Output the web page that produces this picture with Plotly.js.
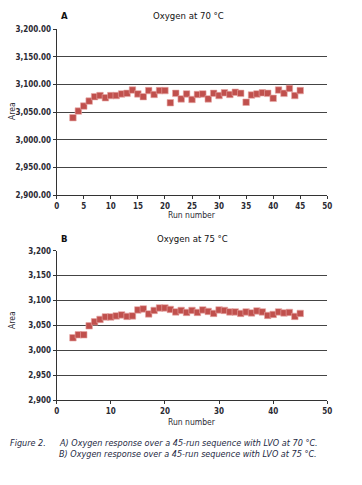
<!DOCTYPE html>
<html><head><meta charset="utf-8">
<script src="https://cdn.plot.ly/plotly-3.0.1.min.js"></script>
<style>html,body{margin:0;padding:0;background:#fff;}#chart{width:362px;height:485px;}
#chart text{font-stretch:condensed !important;}</style>
</head><body><div id="chart"></div>
<script>
const runs = [3,4,5,6,7,8,9,10,11,12,13,14,15,16,17,18,19,20,21,22,23,24,25,26,27,28,29,30,31,32,33,34,35,36,37,38,39,40,41,42,43,44,45];
const areaA = [3040,3052,3061,3070,3078,3080,3076,3080,3080,3083,3084,3090,3083,3078,3089,3082,3089,3089,3067,3084,3074,3083,3073,3082,3083,3074,3084,3080,3085,3082,3086,3084,3068,3081,3083,3085,3084,3075,3090,3084,3093,3080,3089];
const areaB = [3025,3031,3031,3049,3057,3062,3067,3067,3069,3071,3068,3069,3081,3083,3073,3080,3085,3085,3082,3077,3080,3076,3080,3076,3081,3078,3074,3081,3080,3077,3077,3074,3077,3075,3079,3077,3070,3072,3077,3075,3076,3068,3074];
const titleA = "Oxygen at 70 °C";
const titleB = "Oxygen at 75 °C";
const captionLines = ["A) Oxygen response over a 45-run sequence with LVO at 70 °C.",
                      "B) Oxygen response over a 45-run sequence with LVO at 75 °C."];

const FONT = "DejaVu Sans Condensed, DejaVu Sans, sans-serif";
const W = 362, H = 485;
const px = v => v / W, py = v => 1 - v / H;
const markerColor = "#c0504d";

const traces = [
  {x: runs, y: areaA, xaxis: "x", yaxis: "y", mode: "markers", type: "scatter",
   marker: {symbol: "square", size: 6.5, color: markerColor, line: {width: 0.6, color: "#e8a8a6"}}, hoverinfo: "none"},
  {x: runs, y: areaB, xaxis: "x2", yaxis: "y2", mode: "markers", type: "scatter",
   marker: {symbol: "square", size: 6.5, color: markerColor, line: {width: 0.6, color: "#e8a8a6"}}, hoverinfo: "none"}
];

const tickFont = {family: FONT, size: 8, color: "#2a2a33", weight: 600};
const xBase = {range: [0, 50], domain: [px(56.7), px(327.3)], showgrid: false, zeroline: false,
  showline: true, linecolor: "#333", linewidth: 1, ticks: "outside", ticklen: 3, tickcolor: "#333",
  tickfont: tickFont, fixedrange: true};
const yBase = {range: [2900, 3200], dtick: 50, showgrid: true, gridcolor: "#444", gridwidth: 1, zeroline: false,
  showline: true, linecolor: "#333", linewidth: 1, ticks: "outside", ticklen: 3, tickcolor: "#333",
  tickfont: tickFont, fixedrange: true};

const labFont = {family: FONT, size: 8.5, color: "#2a2a33"};
const ttlFont = {family: FONT, size: 9.5, color: "#111"};
const capFont = {family: FONT, size: 9, color: "#1e2a44"};
function ann(text, x, y, font, extra) {
  return Object.assign({text: text, x: px(x), y: py(y), xref: "paper", yref: "paper",
    xanchor: "center", yanchor: "middle", showarrow: false, font: font}, extra || {});
}
const layout = {
  width: W, height: H, margin: {l: 0, r: 0, t: 0, b: 0},
  paper_bgcolor: "#fff", plot_bgcolor: "#fff", showlegend: false,
  xaxis: Object.assign({}, xBase, {anchor: "y", dtick: 5}),
  yaxis: Object.assign({}, yBase, {anchor: "x", domain: [py(195), py(29.3)], tickformat: ",.2f"}),
  xaxis2: Object.assign({}, xBase, {anchor: "y2", dtick: 10}),
  yaxis2: Object.assign({}, yBase, {anchor: "x2", domain: [py(400), py(250.7)], tickformat: ","}),
  annotations: [
    ann("<b>A</b>", 64, 15.5, ttlFont),
    ann(titleA, 188, 15.5, ttlFont),
    ann("Area", 12, 111, labFont, {textangle: -90}),
    ann("Run number", 192, 214.5, labFont),
    ann("<b>B</b>", 64, 238, ttlFont),
    ann(titleB, 192, 238, ttlFont),
    ann("Area", 12, 320, labFont, {textangle: -90}),
    ann("Run number", 192, 421.7, labFont),
    ann("<i>Figure 2.</i>", 8, 442.7, capFont, {xanchor: "left"}),
    ann("<i>" + captionLines[0] + "</i>", 57, 442.7, capFont, {xanchor: "left"}),
    ann("<i>" + captionLines[1] + "</i>", 57, 453.7, capFont, {xanchor: "left"})
  ]
};
Plotly.newPlot("chart", traces, layout, {staticPlot: true, displayModeBar: false});
</script></body></html>
